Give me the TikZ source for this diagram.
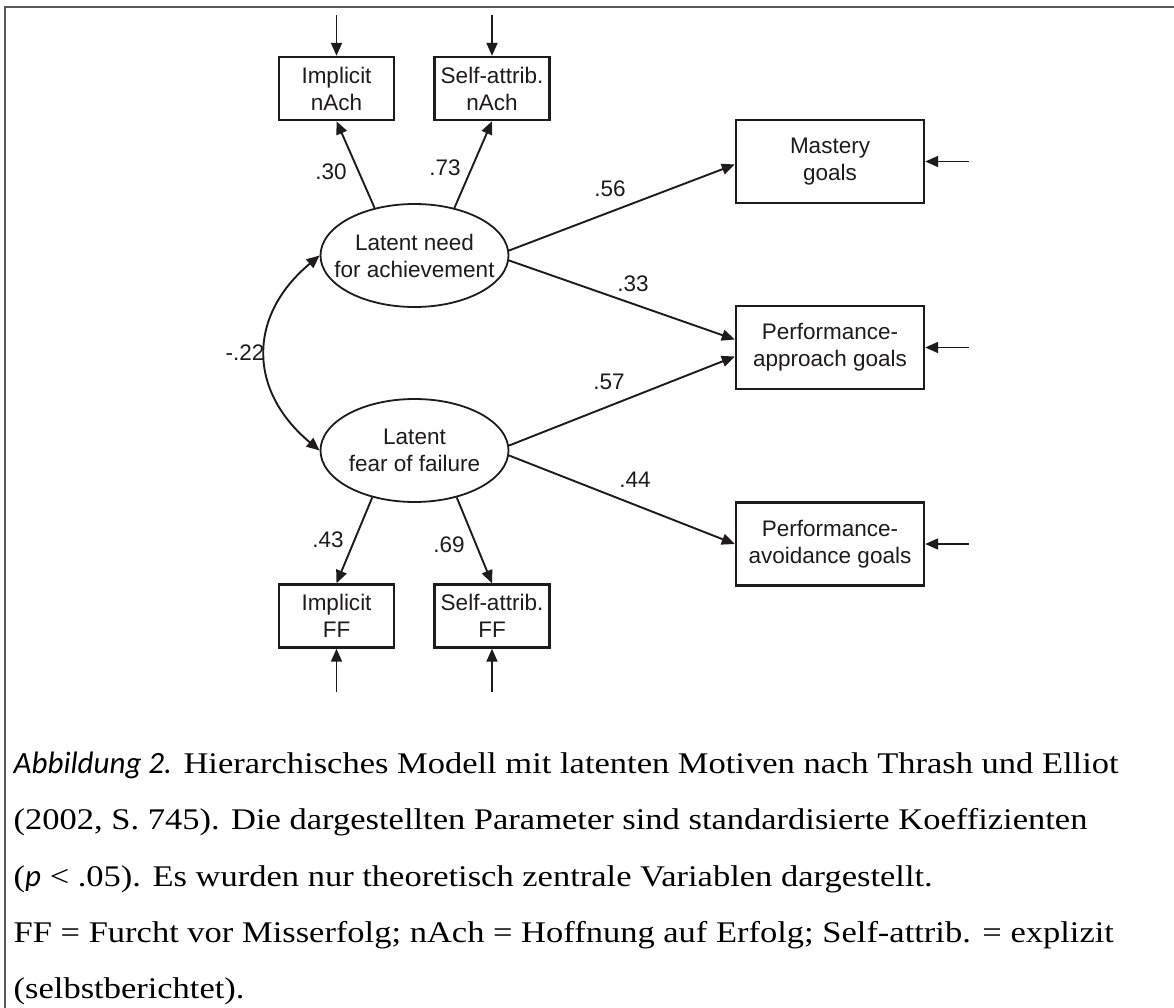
\documentclass[tikz,border=0pt]{standalone}
\usepackage{fontspec}
\setmainfont{Liberation Sans}
\newfontfamily\capfont[FakeStretch=1.15]{Liberation Serif}
\newfontfamily\capit{Carlito}
\usetikzlibrary{arrows.meta,shapes.geometric,calc}
\definecolor{ink}{RGB}{30,27,28}
\definecolor{framecol}{RGB}{90,90,90}
\newcommand{\capital}[1]{{\capit\itshape\fontsize{31}{34}\selectfont #1}}
\begin{document}
\begin{tikzpicture}[x=1pt,y=-1pt,
  every node/.style={text=ink, font=\fontsize{22.5}{27}\selectfont},
  obs/.style={draw=ink, line width=2.4pt, rectangle, minimum width=115pt, minimum height=63pt, inner sep=0pt, align=center},
  goal/.style={obs, minimum width=188pt, minimum height=83pt},
  lat/.style={draw=ink, line width=1.8pt, ellipse, minimum width=188pt, minimum height=103pt, inner sep=0pt},
  lattext/.style={align=center, inner sep=0pt},
  conn/.style={draw=ink, line width=1.9pt, -{Triangle[length=13pt,width=11pt]}},
  lab/.style={inner sep=0pt},
  captext/.style={anchor=base west, inner sep=0pt, text=black, font=\capfont\fontsize{30}{34}\selectfont}
]
\useasboundingbox (0,0) rectangle (1174,1008);
\fill[white] (0,0) rectangle (1174,1008);
% frame
\draw[framecol, line width=2pt] (5,1008) -- (5,7.5) -- (1174,7.5);

% observed indicators
\node[obs] (iN) at (336.5,88.5) {Implicit\\nAch};
\node[obs] (sN) at (492,88.5) {Self-attrib.\\nAch};
\node[obs] (iF) at (336.5,616) {Implicit\\FF};
\node[obs] (sF) at (492,616) {Self-attrib.\\FF};

% latent variables
\node[lat] (nA) at (414.5,255.5) {};
\node[lattext] (nAt) at (nA) {Latent need\\for achievement};
\node[lat] (nF) at (414.5,450.5) {};
\node[lattext] (nFt) at (nF) {Latent\\fear of failure};

% goals
\node[goal] (M) at (830,161.5) {Mastery\\goals};
\node[goal] (PAp) at (830,347.5) {Performance-\\approach goals};
\node[goal] (PAv) at (830,544) {Performance-\\avoidance goals};

% error terms
\coordinate (eiN) at (336.5,15);
\coordinate (esN) at (492,15);
\coordinate (eiF) at (336.5,692);
\coordinate (esF) at (492,692);
\coordinate (eM) at (969,161.5);
\coordinate (ePAp) at (969,347.5);
\coordinate (ePAv) at (969,544);
\draw[conn] (eiN) -- (iN.north);
\draw[conn] (esN) -- (sN.north);
\draw[conn] (eiF) -- (iF.south);
\draw[conn] (esF) -- (sF.south);
\draw[conn] (eM) -- (M.east);
\draw[conn] (ePAp) -- (PAp.east);
\draw[conn] (ePAv) -- (PAv.east);

% loadings
\draw[conn] (nA.130) -- (iN.south);
\draw[conn] (nA.50) -- (sN.south);
\draw[conn] (nF.228) -- (iF.north);
\draw[conn] (nF.312) -- (sF.north);

% structural paths
\draw[conn] (nA.3) -- ($(M.west)+(0,3)$);
\draw[conn] (nA.-3) -- ($(PAp.west)+(0,-8)$);
\draw[conn] (nF.3) -- ($(PAp.west)+(0,9)$);
\draw[conn] (nF.-3) -- (PAv.west);

% correlation
\draw[conn, {Triangle[length=13pt,width=11pt]}-{Triangle[length=13pt,width=11pt]}] (nA.west) .. controls +(-72,60) and +(-72,-60) .. (nF.west);

% labels
\node[lab] (l30) at (331,172) {.30};
\node[lab] (l73) at (445,168) {.73};
\node[lab] (l56) at (610,189) {.56};
\node[lab] (l33) at (633,284) {.33};
\node[lab] (l57) at (609,382) {.57};
\node[lab] (l44) at (635,480) {.44};
\node[lab] (l43) at (328,540) {.43};
\node[lab] (l69) at (449,545) {.69};
\node[lab] (l22) at (245,353) {-.22};

% caption
\node[captext] (c1) at (13.5,773) {\capital{Abbildung 2.} Hierarchisches Modell mit latenten Motiven nach Thrash und Elliot};
\node[captext] (c2) at (13.5,829.5) {(2002, S. 745). Die dargestellten Parameter sind standardisierte Koeffizienten};
\node[captext] (c3) at (13.5,886) {(\capital{p} < .05). Es wurden nur theoretisch zentrale Variablen dargestellt.};
\node[captext] (c4) at (13.5,942) {FF = Furcht vor Misserfolg; nAch = Hoffnung auf Erfolg; Self-attrib. = explizit};
\node[captext] (c5) at (13.5,998) {(selbstberichtet).};
\end{tikzpicture}
\end{document}
